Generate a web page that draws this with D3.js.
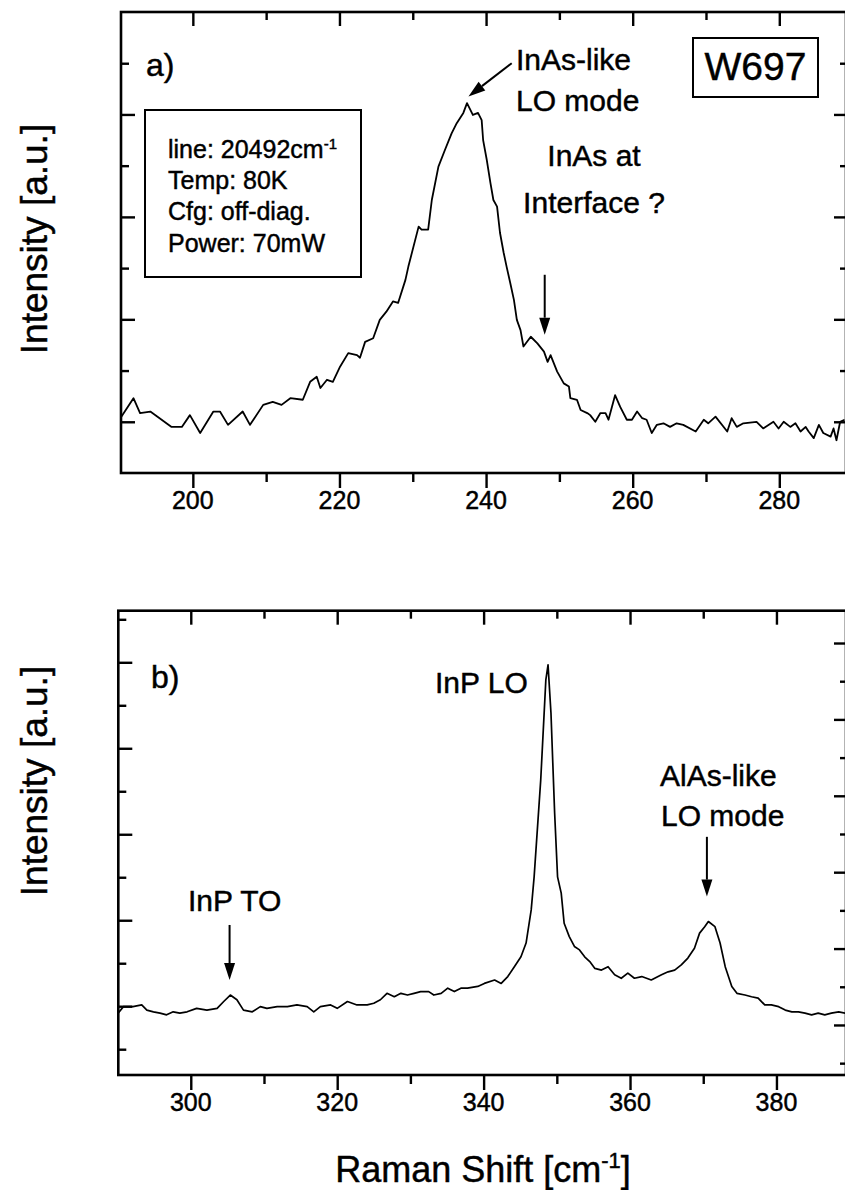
<!DOCTYPE html>
<html>
<head>
<meta charset="utf-8">
<script src="https://cdn.jsdelivr.net/npm/d3@7/dist/d3.min.js"></script>
<style>
  html, body { margin: 0; padding: 0; background: #fff; }
  svg { display: block; }
  text { font-family: "Liberation Sans", Arial, sans-serif; fill: #000; stroke: #000; stroke-width: 0.45px; }
</style>
</head>
<body>
<svg id="chart" width="845" height="1190"></svg>
<script>
// ---------------- DATA ----------------
// Panel a) Raman shift (cm^-1) and intensity (a.u.)
const shiftA = [190.2,191.9,192.8,194.2,197.1,198.5,199.6,201.0,202.8,203.7,204.8,206.8,207.8,209.6,210.9,212.1,213.3,215.0,216.0,216.9,217.4,218.3,219.1,220.1,221.2,222.4,222.8,223.5,224.6,225.5,226.4,227.3,228.0,229.0,229.4,230.8,231.2,232.1,232.6,233.5,234.4,235.3,236.0,236.9,237.4,238.2,238.9,239.4,239.6,240.1,240.6,241.0,241.5,241.9,242.4,242.8,243.3,243.8,244.2,244.7,245.1,246.1,247.0,247.9,248.4,248.8,249.7,250.6,251.3,251.5,252.4,252.9,253.8,254.2,254.9,255.6,256.3,256.7,257.6,258.3,259.2,259.9,260.6,261.3,261.9,262.6,263.3,264.2,265.1,266.0,266.9,268.6,269.7,270.3,271.3,272.9,273.5,274.2,275.1,276.9,277.8,279.2,279.9,280.6,281.5,282.2,282.9,283.6,284.0,284.7,285.4,286.0,287.0,287.4,287.8,288.3,288.9];
const intensityA = [1.09,1.46,1.17,1.20,0.90,0.90,1.13,0.78,1.20,1.20,0.94,1.20,0.94,1.33,1.39,1.33,1.46,1.43,1.78,1.88,1.66,1.82,1.78,2.08,2.34,2.30,2.25,2.56,2.63,2.99,3.15,3.35,3.32,3.77,4.03,4.81,4.75,4.75,5.33,5.98,6.31,6.63,6.83,7.03,7.22,6.99,7.03,6.89,6.50,6.11,5.66,5.33,5.20,4.69,4.30,4.03,3.71,3.38,2.99,2.79,2.47,2.66,2.53,2.37,2.17,2.30,1.98,1.75,1.69,1.46,1.43,1.23,1.17,1.13,1.00,1.17,1.17,1.04,1.52,1.29,1.04,1.04,1.20,1.07,1.04,0.78,0.94,0.97,0.90,0.97,0.94,0.81,1.04,0.97,1.10,0.81,1.07,0.90,0.97,1.00,0.87,1.00,0.87,1.00,0.90,0.97,0.81,0.90,0.81,0.68,0.94,0.78,0.71,0.87,0.64,1.00,1.04];

// Panel b)
const shiftB = [290.1,290.8,292.1,293.3,294.0,294.9,295.8,296.7,297.6,298.5,299.5,300.8,302.2,303.6,304.5,305.4,306.3,307.2,308.4,309.5,310.4,311.8,313.2,314.5,315.9,316.8,317.7,319.1,320.0,321.4,322.7,324.1,325.0,325.9,326.8,327.8,328.7,329.6,330.5,331.4,332.5,333.2,334.2,335.1,336.0,336.9,337.8,339.2,340.1,341.5,342.4,343.3,344.2,345.1,345.8,346.5,346.9,347.8,348.5,348.8,349.2,349.7,350.1,350.6,351.0,351.7,352.4,353.1,353.8,354.5,355.2,356.1,357.0,357.9,358.8,359.7,360.6,361.6,362.9,364.3,365.2,366.1,367.0,367.9,368.8,369.5,370.2,370.7,371.6,372.3,373.0,373.9,374.6,375.7,376.6,377.5,378.4,379.3,380.3,381.2,382.1,383.0,383.9,384.8,385.7,386.6,387.5,388.5,389.4];
const intensityB = [0.84,0.99,0.99,1.03,0.91,0.87,0.84,0.80,0.87,0.84,0.87,0.95,0.91,0.95,1.11,1.26,1.15,0.91,0.87,0.99,0.95,0.99,0.99,1.03,0.99,0.87,0.99,1.03,0.95,1.11,1.03,1.03,1.07,1.15,1.30,1.22,1.30,1.26,1.30,1.34,1.34,1.26,1.30,1.42,1.34,1.42,1.42,1.46,1.53,1.61,1.53,1.69,1.92,2.15,2.47,3.24,4.01,6.26,8.59,8.94,7.82,5.50,4.01,3.63,2.93,2.62,2.39,2.31,2.15,2.04,1.88,1.84,1.92,1.73,1.65,1.77,1.65,1.69,1.61,1.73,1.80,1.84,1.96,2.12,2.35,2.70,2.85,2.97,2.85,2.47,1.92,1.46,1.30,1.26,1.22,1.19,1.03,1.03,0.99,0.91,0.87,0.87,0.84,0.80,0.84,0.80,0.84,0.87,0.84];

// Tick values
const xTicksA = [200, 210, 220, 230, 240, 250, 260, 270, 280];
const xLabelsA = [200, 220, 240, 260, 280];
const xTicksB = [300, 310, 320, 330, 340, 350, 360, 370, 380];
const xLabelsB = [300, 320, 340, 360, 380];
const yTicksA = [1, 2, 3, 4, 5, 6, 7, 8];
const yTicksBLeft = [0, 1, 2, 3, 4, 5, 6, 7, 8, 9, 10];
const yTicksBRight = [0, 1, 2, 3, 4, 5, 6, 7, 8, 9, 10, 11];

// Texts
const legendLines = [["line: 20492cm", "-1"], ["Temp: 80K"], ["Cfg: off-diag."], ["Power: 70mW"]];
const sampleName = "W697";
const yTitle = "Intensity [a.u.]";
const xTitle = ["Raman Shift [cm", "-1", "]"];

// ---------------- DRAW ----------------
const svg = d3.select("#chart");

const panelA = { left: 121, right: 846, top: 12, bottom: 473 };
const panelB = { left: 118.3, right: 846, top: 610.7, bottom: 1075 };

const xA = d3.scaleLinear().domain([190.2, 289.1]).range([panelA.left, panelA.right]);
const yA = d3.scaleLinear().domain([0, 9]).range([panelA.bottom, panelA.top]);
const xB = d3.scaleLinear().domain([290.1, 389.5]).range([panelB.left, panelB.right]);
const yB = d3.scaleLinear().domain([-0.6, 10.2]).range([panelB.bottom, panelB.top]);
const yBR = d3.scaleLinear().domain([-0.310, 11.846]).range([panelB.bottom, panelB.top]);

const FRAME_W = 2.6;
const MAJ = 14, MIN = 8;

function drawPanel(p, x, y, yR, xTicks, xLabels, yTicksL, yTicksR, isMajorX, isMajorY, isMajorYR) {
  const g = svg.append("g");
  const bottomAxis = d3.axisBottom(x).tickValues(xTicks).tickSize(0).tickFormat("");
  const gb = g.append("g").attr("transform", `translate(0,${p.bottom})`).call(bottomAxis);
  gb.select(".domain").remove();
  gb.selectAll(".tick line")
    .attr("y2", d => isMajorX(d) ? 15 : 9)
    .attr("stroke", "#000").attr("stroke-width", 2.4);
  g.append("g").selectAll("text").data(xLabels).join("text")
    .attr("x", d => x(d)).attr("y", p.bottom + 36)
    .attr("text-anchor", "middle").attr("font-size", 25)
    .text(d => d);
  const topAxis = d3.axisTop(x).tickValues(xTicks).tickSize(0).tickFormat("");
  const gt = g.append("g").attr("transform", `translate(0,${p.top})`).call(topAxis);
  gt.select(".domain").remove();
  gt.selectAll(".tick line")
    .attr("y2", d => isMajorX(d) ? MAJ : MIN)
    .attr("stroke", "#000").attr("stroke-width", 2.4);
  const leftAxis = d3.axisLeft(y).tickValues(yTicksL).tickSize(0).tickFormat("");
  const gl = g.append("g").attr("transform", `translate(${p.left},0)`).call(leftAxis);
  gl.select(".domain").remove();
  gl.selectAll(".tick line")
    .attr("x2", d => isMajorY(d) ? MAJ : MIN)
    .attr("stroke", "#000").attr("stroke-width", 2.4);
  const rightAxis = d3.axisRight(yR).tickValues(yTicksR).tickSize(0).tickFormat("");
  const gr = g.append("g").attr("transform", `translate(${p.right},0)`).call(rightAxis);
  gr.select(".domain").remove();
  gr.selectAll(".tick line")
    .attr("x2", d => isMajorYR(d) ? -MAJ + 2 : -MIN + 2)
    .attr("stroke", "#000").attr("stroke-width", 2.4);
  g.append("rect")
    .attr("x", p.left).attr("y", p.top)
    .attr("width", p.right - p.left).attr("height", p.bottom - p.top)
    .attr("fill", "none").attr("stroke", "#000").attr("stroke-width", FRAME_W);
  return g;
}

const isMajorX20 = d => d % 20 === 0;
const oddMajor = d => d % 2 === 1;

drawPanel(panelA, xA, yA, yA, xTicksA, xLabelsA, yTicksA, yTicksA, isMajorX20, oddMajor, oddMajor);
drawPanel(panelB, xB, yB, yBR, xTicksB, xLabelsB, yTicksBLeft, yTicksBRight, isMajorX20, oddMajor, oddMajor);

// spectra
const lineA = d3.line().x(d => xA(d[0])).y(d => yA(d[1]));
const lineB = d3.line().x(d => xB(d[0])).y(d => yB(d[1]));
svg.append("path").datum(d3.zip(shiftA, intensityA))
  .attr("d", lineA).attr("fill", "none").attr("stroke", "#000")
  .attr("stroke-width", 1.8).attr("stroke-linejoin", "round");
svg.append("path").datum(d3.zip(shiftB, intensityB))
  .attr("d", lineB).attr("fill", "none").attr("stroke", "#000")
  .attr("stroke-width", 1.7).attr("stroke-linejoin", "round");

function arrow(x0, y0, x1, y1) {
  const ang = Math.atan2(y1 - y0, x1 - x0);
  const L = 17, W = 5.5;
  const bx = x1 - L * Math.cos(ang), by = y1 - L * Math.sin(ang);
  svg.append("line").attr("x1", x0).attr("y1", y0).attr("x2", bx).attr("y2", by)
    .attr("stroke", "#000").attr("stroke-width", 2);
  const nx = -Math.sin(ang) * W, ny = Math.cos(ang) * W;
  svg.append("path")
    .attr("d", `M${x1},${y1} L${bx + nx},${by + ny} L${bx - nx},${by - ny} Z`)
    .attr("fill", "#000");
}

arrow(xA(243.5), yA(8.0), xA(237.6), yA(7.35));
arrow(xA(248.0), yA(3.87), xA(248.0), yA(2.70));
arrow(xB(305.3), yB(2.89), xB(305.3), yB(1.61));
arrow(xB(370.5), yB(4.94), xB(370.5), yB(3.55));

function label(txt, x, y, size, anchor) {
  return svg.append("text").attr("x", x).attr("y", y)
    .attr("font-size", size).attr("text-anchor", anchor || "start").text(txt);
}

label("a)", 146, 76, 32);
label("b)", 151, 688, 32);

label("InAs-like", 516, 70, 30);
label("LO mode", 516, 111, 30);
label("InAs at", 594, 166, 30, "middle");
label("Interface ?", 594, 213, 30, "middle");

label("InP LO", 435, 693, 30);
label("AlAs-like", 660, 786, 30);
label("LO mode", 661, 826, 30);
label("InP TO", 188, 911, 30);

svg.append("rect").attr("x", 693).attr("y", 38).attr("width", 125).attr("height", 59)
  .attr("fill", "#fff").attr("stroke", "#000").attr("stroke-width", 2);
label(sampleName, 755.5, 80, 39, "middle");

svg.append("rect").attr("x", 145).attr("y", 110).attr("width", 216).attr("height", 167)
  .attr("fill", "none").attr("stroke", "#000").attr("stroke-width", 2);
legendLines.forEach((ln, i) => {
  const t = svg.append("text").attr("x", 168).attr("y", 158 + i * 31.2).attr("font-size", 25);
  t.append("tspan").text(ln[0]);
  if (ln[1]) t.append("tspan").attr("dy", -9).attr("font-size", 15).text(ln[1]);
});

[239, 781].forEach(cy => {
  svg.append("text")
    .attr("transform", `translate(47,${cy}) rotate(-90)`)
    .attr("text-anchor", "middle").attr("font-size", 37)
    .text(yTitle);
});
const xt = svg.append("text").attr("x", 483).attr("y", 1182)
  .attr("text-anchor", "middle").attr("font-size", 36);
xt.append("tspan").text(xTitle[0]);
xt.append("tspan").attr("dy", -14).attr("font-size", 22).text(xTitle[1]);
xt.append("tspan").attr("dy", 14).text(xTitle[2]);
</script>
</body>
</html>
